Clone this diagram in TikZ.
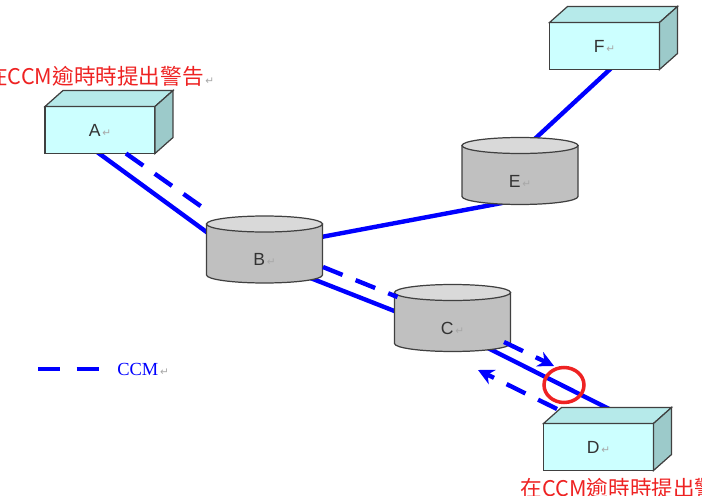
\documentclass[tikz,border=0pt]{standalone}
\usepackage{fontspec}
\setmainfont{Liberation Sans}
\newfontfamily\cjkfont{Noto Sans CJK TC}
\newfontfamily\markfont{DejaVu Sans}
\newfontfamily\keyfont{Liberation Serif}
\usepackage{xcolor}
\usetikzlibrary{arrows.meta, positioning, calc, shapes.geometric, backgrounds}
\definecolor{boxfront}{HTML}{CCFFFF}
\definecolor{boxtop}{HTML}{B6EAEA}
\definecolor{boxside}{HTML}{9CCACA}
\definecolor{drumbody}{HTML}{C0C0C0}
\definecolor{drumtop}{HTML}{D9D9D9}
\definecolor{edgegray}{HTML}{404040}
\definecolor{textgray}{HTML}{333333}
\definecolor{linkblue}{HTML}{0000FF}
\definecolor{alarmred}{HTML}{EE2222}
\definecolor{markgray}{HTML}{A8A8A8}
\newcommand{\parmark}{{\markfont\fontsize{6}{6}\selectfont\color{markgray}\,↵}}
\tikzset{
    netdiagram/.style={x=0.02cm, y=-0.02cm, font=\fontsize{10}{12}\selectfont},
    unit/.style={draw=edgegray, line width=0.7pt, fill=boxfront, text=textgray,
        minimum width=2.2cm, minimum height=0.94cm, inner sep=0pt, outer sep=0pt},
    % drum = space between the two end ellipses of a cylinder
    drum/.style={minimum width=2.32cm, minimum height=1.02cm, inner sep=0pt, outer sep=0pt},
    drumedge/.style={draw=edgegray, line width=0.7pt},
    drumtext/.style={text=textgray, inner sep=0pt},
    link/.style={draw=linkblue, line width=2.5pt},
    % dashed CCM path
    ccm/.style={draw=linkblue, line width=2.5pt, dash pattern=on 12pt off 8pt},
    ccmtip/.style={-{Stealth[length=9pt, width=9pt]}},
    ring/.style={ellipse, draw=alarmred, line width=2pt, minimum width=0.8cm,
        minimum height=0.7cm, inner sep=0pt},
    warn/.style={text=alarmred, font=\cjkfont\fontsize{12.3}{14}\selectfont, inner sep=0pt, anchor=west},
}

\begin{document}
\begin{tikzpicture}[netdiagram]
    \useasboundingbox (0,0) rectangle (702,496);

    % end units and switches
    \node[unit] (A) at (100,130)   {A\parmark};
    \node[unit] (F) at (604.5,46)  {F\parmark};
    \node[unit] (D) at (598.5,447) {D\parmark};
    \node[drum] (B) at (264.5,249.5) {};
    \node[drum] (C) at (452.5,318)   {};
    \node[drum] (E) at (520,171)     {};

    \foreach \n in {A,F,D} {
        \draw[draw=edgegray, line width=0.7pt, fill=boxtop]
            (\n.north west) -- ++(18,-16) -- ++(110,0) -- (\n.north east) -- cycle;
        \draw[draw=edgegray, line width=0.7pt, fill=boxside]
            (\n.north east) -- ++(18,-16) -- ++(0,47) -- (\n.south east) -- cycle;
    }

    \foreach \n in {B,C,E} {
        \filldraw[drumedge, fill=drumbody] (\n.north west) -- (\n.south west)
            arc[start angle=180, end angle=360, x radius=1.16cm, y radius=0.16cm]
            -- (\n.north east) -- cycle;
        \filldraw[drumedge, fill=drumtop] (\n.north) ellipse[x radius=1.16cm, y radius=0.16cm];
        \node[drumtext] (\n-name) at ($(\n)+(0,10)$) {\n\parmark};
    }

    % links sit under the boxes
    \begin{pgfonlayer}{background}
        \draw[link] ($(A)+(-18,11)$) -- ($(B)+(-39.5,-4)$);
        \draw[link] ($(B)+(35.5,-8.5)$) -- ($(E)+(0,28.6)$);
        \draw[link] ($(E)+(5,-23)$) -- ($(F)+(15.5,14)$);
        \draw[link] ($(B)+(25.5,20.5)$) -- ($(C)+(-22.5,7)$);
        \draw[link] ($(C)+(17.5,21)$) -- ($(D)+(26.5,-30)$);
    \end{pgfonlayer}

    \node[ring] (alarm) at (564,385) {};

    \draw[ccm] ($(A.south)+(26,0)$) -- ($(B)+(-62.5,-42.5)$);
    \draw[ccm] ($(B)+(58.5,17.5)$) -- ($(C)+(-55,-21)$);
    \draw[ccm, ccmtip] ($(C)+(51.5,24)$) -- ($(alarm)+(-10,-19)$);
    \draw[ccm, ccmtip] ($(D)+(-41.5,-38)$) -- ($(C)+(25.5,52)$);

    % warnings
    \node[warn] (warnA) at ($(A.north)+(-114,-30)$) {在CCM逾時時提出警告\parmark};
    \node[warn] (warnD) at ($(D.south west)+(-23,17.5)$) {在CCM逾時時提出警告\parmark};

    % legend
    \coordinate (key) at (38,369);
    \coordinate (keyend) at (99,369);
    \draw[ccm, dash pattern=on 12.5pt off 9.5pt] (key) -- (keyend);
    \node[right=0.36cm of keyend, inner sep=0pt, text=linkblue, font=\keyfont\fontsize{10.5}{12}\selectfont] (keytext) {CCM\parmark};
\end{tikzpicture}
\end{document}
